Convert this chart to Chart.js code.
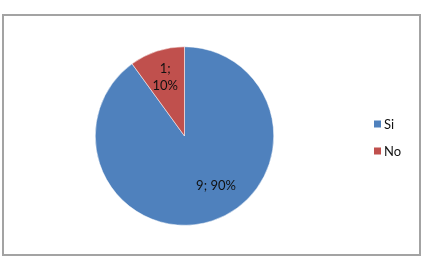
<!DOCTYPE html>
<html>
<head>
<meta charset="utf-8">
<script src="https://cdn.jsdelivr.net/npm/chart.js@4.4.0/dist/chart.umd.min.js"></script>
<style>
  html, body { margin: 0; padding: 0; background: #fff; }
  #wrap { position: relative; width: 427px; height: 272px; }
  #frame { position: absolute; left: 2px; top: 14px; width: 415px; height: 238px; border: 2px solid #a3a3a3; }
  canvas { position: absolute; left: 0; top: 0; }
</style>
</head>
<body>
<div id="wrap">
  <div id="frame"></div>
  <canvas id="pieChart" width="427" height="272"></canvas>
</div>
<script>
// Chart data
const categories = ['Si', 'No'];
const counts = [9, 1];
const percents = [90, 10];
const colors = ['#4F81BD', '#C0504D'];

// Value labels "9; 90%" inside slices
const sliceLabels = {
  id: 'sliceLabels',
  afterDatasetsDraw(chart) {
    const ctx = chart.ctx;
    const meta = chart.getDatasetMeta(0);
    ctx.save();
    ctx.font = '13px Lato, "Open Sans", sans-serif';
    ctx.fillStyle = '#111';
    ctx.textAlign = 'center';
    ctx.textBaseline = 'middle';
    meta.data.forEach((arc, i) => {
      const p = arc.getProps(['x', 'y', 'startAngle', 'endAngle', 'outerRadius']);
      let mid = (p.startAngle + p.endAngle) / 2;
      let f = 0.7;
      if (i === 0) { mid -= 0.25; f = 0.66; }
      const x = p.x + Math.cos(mid) * p.outerRadius * f;
      const y = p.y + Math.sin(mid) * p.outerRadius * f;
      if (i === 0) {
        ctx.fillText(counts[i] + '; ' + percents[i] + '%', x, y);
      } else {
        ctx.fillText(counts[i] + ';', x, y - 8);
        ctx.fillText(percents[i] + '%', x, y + 9);
      }
    });
    ctx.restore();
  }
};

// Legend drawn to the right of the pie
const sideLegend = {
  id: 'sideLegend',
  afterDraw(chart) {
    const ctx = chart.ctx;
    ctx.save();
    ctx.font = '13px Lato, "Open Sans", sans-serif';
    ctx.textBaseline = 'middle';
    ctx.textAlign = 'left';
    categories.forEach((c, i) => {
      const y = 124 + i * 27;
      ctx.fillStyle = colors[i];
      ctx.fillRect(374, y - 3.5, 7, 7);
      ctx.fillStyle = '#111';
      ctx.fillText(c, 384, y + 1);
    });
    ctx.restore();
  }
};

document.addEventListener('DOMContentLoaded', () => {
  const ctx = document.getElementById('pieChart');
  new Chart(ctx, {
    type: 'pie',
    data: {
      labels: categories,
      datasets: [{
        data: counts,
        backgroundColor: colors,
        borderColor: '#ffffff',
        borderWidth: 0.5
      }]
    },
    options: {
      responsive: false,
      animation: false,
      layout: { padding: { top: 46, bottom: 46, left: 95, right: 153 } },
      plugins: {
        legend: { display: false },
        tooltip: { enabled: false }
      }
    },
    plugins: [sliceLabels, sideLegend]
  });
});
</script>
</body>
</html>
